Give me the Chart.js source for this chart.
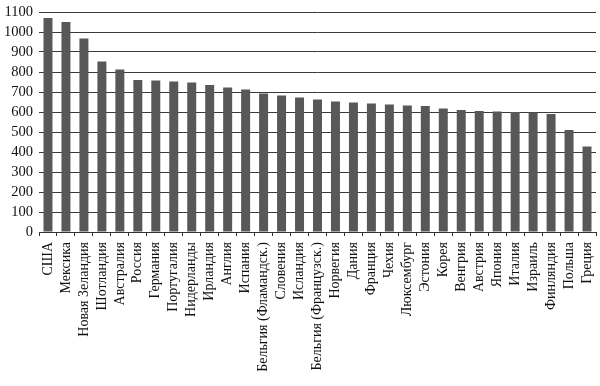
<!DOCTYPE html>
<html>
<head>
<meta charset="utf-8">
<script src="https://cdn.jsdelivr.net/npm/chart.js@4/dist/chart.umd.min.js"></script>
<style>
html,body{margin:0;padding:0;background:#fff;}
#wrap{width:600px;height:386px;position:relative;}
</style>
</head>
<body>
<div id="wrap"><canvas id="c" width="600" height="386"></canvas></div>
<script>
const categories = ["США","Мексика","Новая Зеландия","Шотландия","Австралия","Россия","Германия","Португалия","Нидерланды","Ирландия","Англия","Испания","Бельгия (Фламандск.)","Словения","Исландия","Бельгия (Французск.)","Норвегия","Дания","Франция","Чехия","Люксембург","Эстония","Корея","Венгрия","Австрия","Япония","Италия","Израиль","Финляндия","Польша","Греция"];
const values = [1070,1050,968,853,813,760,757,753,748,735,722,713,693,682,672,663,653,647,642,637,633,630,618,610,605,602,600,598,590,510,427];
const yMin = 0, yMax = 1100, yStep = 100;

const fam = "'Liberation Serif', 'DejaVu Serif', serif";
new Chart(document.getElementById('c'), {
  type: 'bar',
  data: {
    labels: categories,
    datasets: [{
      data: values,
      backgroundColor: '#585858',
      borderWidth: 0,
      barPercentage: 0.5,
      categoryPercentage: 1.0
    }]
  },
  options: {
    responsive: false,
    animation: false,
    layout: {padding: {top: 12, right: 4, left: 0, bottom: 0}},
    plugins: {legend: {display: false}, tooltip: {enabled: false}},
    scales: {
      x: {
        afterFit: s => { s.height = 154; s.paddingLeft = 0; s.paddingRight = 0; },
        grid: {display: true, drawOnChartArea: false, drawTicks: true, tickLength: 4, color: '#333', offset: true},
        border: {display: true, color: '#333', width: 1},
        ticks: {color: '#111', font: {family: fam, size: 14}, minRotation: 90, maxRotation: 90, autoSkip: false, padding: 6}
      },
      y: {
        min: yMin, max: yMax,
        afterFit: s => { s.width = 39; s.paddingTop = 0; s.paddingBottom = 0; },
        grid: {display: true, drawTicks: false, color: '#3a3a3a', lineWidth: 1},
        border: {display: false},
        ticks: {color: '#111', font: {family: fam, size: 14.5}, padding: 6, stepSize: yStep, autoSkip: false, callback: v => String(v)}
      }
    }
  }
});
</script>
</body>
</html>
